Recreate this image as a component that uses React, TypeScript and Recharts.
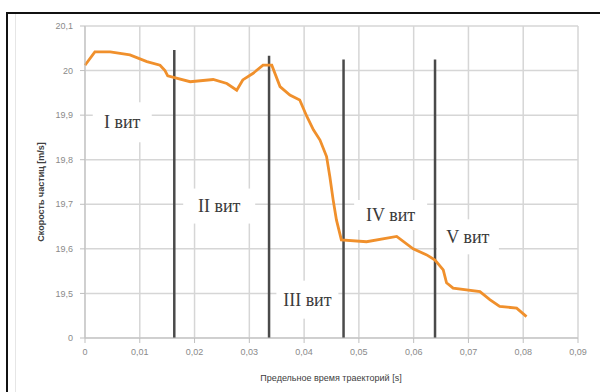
import { LineChart, Line, XAxis, YAxis, CartesianGrid, ReferenceLine, ReferenceDot } from 'recharts';

// particle speed along the trajectory (time in s, speed in m/s)
const times = [
  0, 0.0018, 0.0046, 0.0082, 0.0113, 0.0137, 0.0146, 0.0151, 0.0192, 0.0234,
  0.0259, 0.0277, 0.0288, 0.0307, 0.0325, 0.0341, 0.0356, 0.0374, 0.0392, 0.0405,
  0.0417, 0.0429, 0.0441, 0.0447, 0.0453, 0.0459, 0.0468, 0.0514, 0.0569, 0.0599,
  0.0623, 0.0639, 0.0654, 0.066, 0.0672, 0.0721, 0.0739, 0.0757, 0.0788, 0.0806,
];
const speeds = [
  20.012, 20.042, 20.042, 20.035, 20.02, 20.012, 20.0, 19.988, 19.975, 19.98,
  19.971, 19.956, 19.979, 19.994, 20.012, 20.012, 19.964, 19.945, 19.934, 19.897,
  19.867, 19.844, 19.807, 19.762, 19.71, 19.665, 19.62, 19.616, 19.628, 19.6,
  19.587, 19.575, 19.553, 19.524, 19.512, 19.504, 19.486, 19.471, 19.467, 19.448,
];

const xTicks = [0, 0.01, 0.02, 0.03, 0.04, 0.05, 0.06, 0.07, 0.08, 0.09];
// the bottom tick stands for the broken part of the axis and is shown as "0"
const yTicks = [19.4, 19.5, 19.6, 19.7, 19.8, 19.9, 20.0, 20.1];
const Y_BREAK = 19.4;

// boundaries between the turns: x position and top end of each marker
const turnBounds = [0.0163, 0.0336, 0.0472, 0.0639];
const turnTops = [20.046, 20.033, 20.025, 20.025];

const turnNames = ['I', 'II', 'III', 'IV', 'V'];
const turnLabelX = [0.0068, 0.0245, 0.0406, 0.0558, 0.0699];
const turnLabelY = [19.884, 19.696, 19.486, 19.676, 19.627];
// white backing box behind each label
const boxW = [59, 72, 62, 73, 62];
const boxH = [40, 35, 38, 30, 35];

const data = times.map((t, i) => ({ t, v: speeds[i] }));

const fmt = (v: number) => String(Number(v.toFixed(3))).replace('.', ',');
const fmtY = (v: number) => (Math.abs(v - Y_BREAK) < 1e-9 ? '0' : fmt(v));

const axisFont = { fontSize: 9, fill: '#8a8a8a', fontFamily: 'Liberation Sans, Arial, sans-serif' };

function TurnLabel(props: any) {
  const { cx, cy, name, w, h } = props;
  return (
    <g>
      <rect x={cx - w / 2} y={cy - h / 2} width={w} height={h} fill="#ffffff" />
      <text
        x={cx}
        y={cy + 6}
        textAnchor="middle"
        fontFamily="Liberation Serif, Times New Roman, serif"
        fontSize={18}
        fill="#3a3a3a"
      >
        {name} вит
      </text>
    </g>
  );
}

export default function App() {
  return (
    <div style={{ position: 'absolute', left: 0, top: 0, width: 600, height: 392, background: '#fff', overflow: 'hidden' }}>
      <div style={{ position: 'absolute', left: 6, top: 12, width: 620, height: 400, borderTop: '2px solid #111', borderLeft: '2px solid #111' }} />
      <div style={{ position: 'absolute', left: 15, top: 14, width: 1, height: 380, background: '#e6e6e6' }} />
      <div style={{ position: 'absolute', left: 0, top: 0 }}>
        <LineChart width={600} height={392} data={data} margin={{ top: 26, right: 22, bottom: 24, left: 0 }}>
          <CartesianGrid stroke="#d6d6d6" strokeWidth={1.5} />
          <XAxis
            dataKey="t"
            type="number"
            domain={[0, 0.09]}
            ticks={xTicks}
            tickFormatter={fmt}
            tick={axisFont}
            tickSize={5}
            tickMargin={6}
            height={30}
            stroke="#bfbfbf"
            label={{
              content: () => (
                <text x={331} y={381} textAnchor="middle" fontSize={9} fill="#404040" fontFamily="Liberation Sans, Arial, sans-serif">
                  Предельное время траекторий [s]
                </text>
              ),
            }}
          />
          <YAxis
            type="number"
            domain={[Y_BREAK, 20.1]}
            ticks={yTicks}
            tickFormatter={fmtY}
            tick={axisFont}
            tickSize={5}
            tickMargin={7}
            width={85}
            stroke="#bfbfbf"
            label={{
              content: () => (
                <text
                  x={44}
                  y={192}
                  transform="rotate(-90 44 192)"
                  textAnchor="middle"
                  fontSize={9}
                  fontWeight="bold"
                  fill="#404040"
                  fontFamily="Liberation Sans, Arial, sans-serif"
                >
                  Скорость частиц [m/s]
                </text>
              ),
            }}
          />
          {turnNames.map((name, i) => (
            <ReferenceDot
              key={name}
              x={turnLabelX[i]}
              y={turnLabelY[i]}
              r={0}
              shape={(p: any) => <TurnLabel {...p} name={name} w={boxW[i]} h={boxH[i]} />}
            />
          ))}
          {turnBounds.map((x, i) => (
            <ReferenceLine
              key={x}
              segment={[{ x, y: Y_BREAK }, { x, y: turnTops[i] }]}
              stroke="#4a4a4a"
              strokeWidth={2.5}
            />
          ))}
          <Line
            dataKey="v"
            type="linear"
            stroke="#f0902c"
            strokeWidth={2.8}
            dot={false}
            isAnimationActive={false}
          />
        </LineChart>
      </div>
    </div>
  );
}
